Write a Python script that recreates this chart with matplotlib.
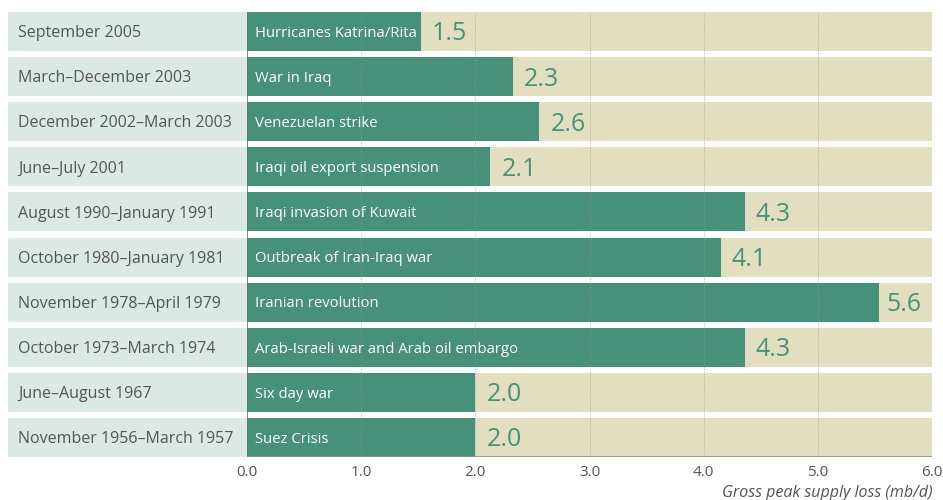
import matplotlib.pyplot as plt

# Data
periods = ['September 2005', 'March\u2013December 2003', 'December 2002\u2013March 2003',
           'June\u2013July 2001', 'August 1990\u2013January 1991', 'October 1980\u2013January 1981',
           'November 1978\u2013April 1979', 'October 1973\u2013March 1974',
           'June\u2013August 1967', 'November 1956\u2013March 1957']
events = ['Hurricanes Katrina/Rita', 'War in Iraq', 'Venezuelan strike',
          'Iraqi oil export suspension', 'Iraqi invasion of Kuwait',
          'Outbreak of Iran-Iraq war', 'Iranian revolution',
          'Arab-Israeli war and Arab oil embargo', 'Six day war', 'Suez Crisis']
# bar lengths as drawn in the picture, and the printed labels
loss = [1.52, 2.33, 2.56, 2.13, 4.36, 4.15, 5.54, 4.36, 2.0, 2.0]
loss_labels = ['1.5', '2.3', '2.6', '2.1', '4.3', '4.1', '5.6', '4.3', '2.0', '2.0']
ticks = [0, 1, 2, 3, 4, 5, 6]

green = '#47917a'
beige = '#e2dfc0'
pale = '#dce8e3'
grey = '#555555'

plt.rcParams['font.family'] = ['Open Sans', 'DejaVu Sans']

fig = plt.figure(figsize=(9.43, 5.0), dpi=100)
ax = fig.add_axes([247 / 943, 43 / 500, 685 / 943, 445 / 500])

n = len(loss)
ypos = list(range(n))
h = 0.865
left_w = (247 - 8) / (685 / 6)


def label(x, y, s, dx, fs, **kw):
    # place text so that its capital letters sit centred on the row
    ax.annotate(s, (x, y), xytext=(dx, -0.357 * fs), textcoords='offset points',
                va='baseline', ha='left', fontsize=fs, **kw)


# background rows, left label cells, bars
ax.barh(ypos, [6] * n, height=h, color=beige, zorder=1)
ax.barh(ypos, [left_w] * n, left=-left_w, height=h, color=pale, zorder=1, clip_on=False)
ax.barh(ypos, loss, height=h, color=green, zorder=2)

for y, p, e, v, lab in zip(ypos, periods, events, loss, loss_labels):
    label(-left_w, y, p, 7.5, 11.5, color=grey, annotation_clip=False)
    label(0, y, e, 5.5, 10.7, color='white', zorder=4)
    off = 5 if v > 5.4 else 8
    label(v, y, lab, off, 18, color=green, zorder=4)

# grid lines on top
for t in ticks[1:-1]:
    ax.axvline(t, color='#9a9a8a', lw=0.7, ls=(0, (1, 1.5)), alpha=0.7, zorder=3)
ax.axvline(0, color='#5c7a70', lw=1.2, zorder=5)
ax.axhline(n - 1 + h / 2, color='#7f9a8a', lw=1.2, zorder=5)

ax.set_xlim(0, 6)
ax.set_ylim(n - 1 + h / 2, -h / 2)
ax.set_xticks(ticks)
ax.set_xticklabels(['%.1f' % t for t in ticks], fontsize=11, color=grey)
ax.tick_params(axis='x', length=0, pad=6)
ax.set_yticks([])
for s in ax.spines.values():
    s.set_visible(False)

fig.text(932 / 943, 7 / 500, 'Gross peak supply loss (mb/d)', ha='right', va='center',
         fontsize=11.5, style='italic', color=grey)

fig.savefig('out.png', dpi=100)
